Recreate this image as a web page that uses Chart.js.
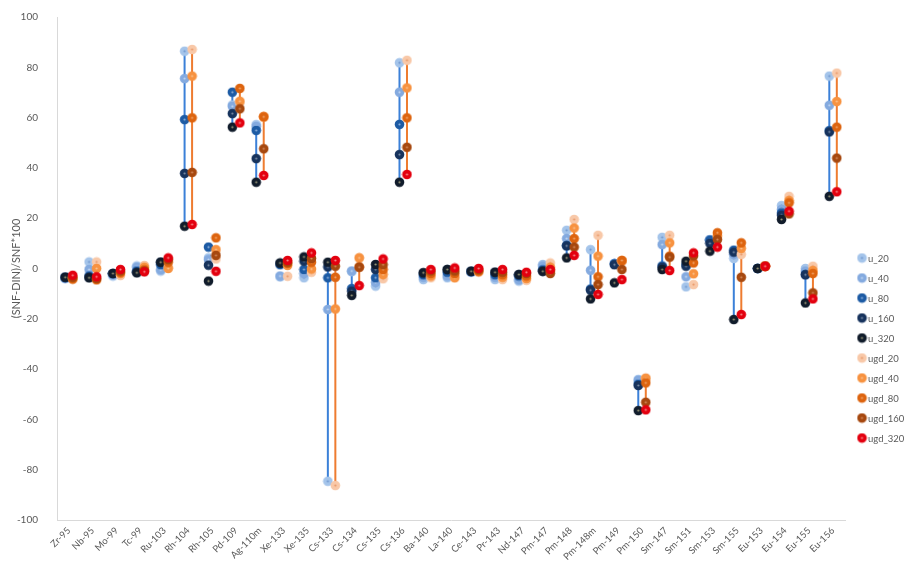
<!DOCTYPE html>
<html>
<head>
<meta charset="utf-8">
<script src="https://cdn.jsdelivr.net/npm/chart.js@4.4.1/dist/chart.umd.min.js"></script>
<style>
  html, body { margin: 0; padding: 0; background: #ffffff; }
  canvas { display: block; }
</style>
</head>
<body>
<canvas id="chart" width="906" height="561"></canvas>
<script>
// Nuclides on the x axis
const categories = ['Zr-95','Nb-95','Mo-99','Tc-99','Ru-103','Rh-104','Rh-105','Pd-109','Ag-110m','Xe-133','Xe-135',
  'Cs-133','Cs-134','Cs-135','Cs-136','Ba-140','La-140','Ce-143','Pr-143','Nd-147','Pm-147','Pm-148','Pm-148m',
  'Pm-149','Pm-150','Sm-147','Sm-151','Sm-153','Sm-155','Eu-153','Eu-154','Eu-155','Eu-156'];

// (SNF-DIN)/SNF*100 per nuclide, u_* cases
const u_20  = [-4, 2.6, -3, 1, -1, 86.4, 4.2, 65, 57.2, -3.3, -3.7, -84.6, -1.2, -7, 81.8, -4.4, -3.7, -1.5, -4.4, -5, 1.6, 15.2, 7.5, 2, -44.1, 12.4, -7.3, 11.5, 4, 0, 25, 0, 76.5];
const u_40  = [-4, -0.4, -2.5, 0.5, -0.5, 75.5, 3.5, 64.5, 56.5, -3, -2, -16.3, -1, -5.5, 70.1, -3.5, -3, -1.3, -3.5, -4.5, 1, 11.9, -0.7, 2, -44.5, 9.5, -3.3, 11.3, 5.6, 0, 23.5, -1, 64.9];
const u_80  = [-3.5, -3, -2, -1, 1.5, 59.2, 8.5, 70.1, 54.9, 1.5, -0.4, -3.7, -8, -3.7, 57.3, -2.5, -1.5, -1.2, -2.5, -3, -0.5, 9.1, -8.2, 1.8, -46, 1, 1.5, 11.3, 7.3, 0, 22.1, -2.4, 54.8];
const u_160 = [-3.5, -3.5, -2, -1.5, 2.5, 37.8, 1.3, 61.6, 43.7, 2, 2.9, 0.6, -9, -0.4, 45.3, -1.8, -0.5, -1.1, -1.5, -2.5, -1, 9, -8.6, 1.5, -46.5, 0.5, 0.9, 10, 6.5, 0, 21.2, -2.5, 54.3];
const u_320 = [-3.5, -3.7, -2, -1.7, 2.5, 16.8, -5, 56.2, 34.3, 2.2, 4.6, 2.5, -10.7, 1.6, 34.3, -1.7, -0.4, -1.1, -1.5, -2.4, -1.1, 4.2, -12.1, -5.7, -56.5, -0.4, 2.9, 6.9, -20.3, 0, 19.5, -13.7, 28.7];

// ugd_* cases
const ugd_20  = [-3.5, 2.6, -2.8, 1.2, 0.5, 87.1, 3.8, 66, 60.5, -3.1, -1.5, -86.3, 4.2, -4.1, 82.8, -3.7, -3.5, -1.5, -4.4, -4.7, 2.2, 19.5, 13.2, 3, -43.5, 13.2, -6.4, 12.5, 5.6, 0.9, 28.7, 0.9, 77.7];
const ugd_40  = [-4, 0, -2, 0.5, 0, 76.5, 7.5, 66.5, 60.3, 1.2, -0.2, -16.1, 4.2, -2.4, 71.8, -3, -3.7, -1.2, -3.5, -4, 0.5, 16.1, 4.9, 3, -43.7, 10.2, -2.1, 13, 8, 0.9, 27, -0.8, 66.4];
const ugd_80  = [-4.2, -4.5, -1.5, -0.5, 2.5, 59.9, 12.2, 71.6, 60.3, 2, 2.5, -3.5, 0.6, -0.4, 59.9, -2, -2, -1, -2.5, -3, -1, 11.9, -3.3, 3.2, -45.5, 4.9, 2.2, 14.2, 10.2, 0.9, 26.1, -2, 56.2];
const ugd_160 = [-3.5, -4, -1, -1, 3.5, 38.2, 5.2, 63.5, 47.6, 2.5, 4, 0.9, 0.5, 1.5, 48.2, -1, -1, -0.5, -1.5, -2, -2, 8.5, -6.4, -0.4, -53.2, 4.5, 5, 11.5, -3.5, 0.9, 21.7, -9.7, 43.9];
const ugd_320 = [-2.7, -3.3, -0.4, -1.3, 4.2, 17.5, -1.1, 57.9, 37, 3.2, 6.2, 3.2, -6.8, 3.8, 37.4, -0.4, 0.2, 0, -0.4, -1.5, -0.4, 5.2, -10.3, -4.4, -56.2, -0.8, 6.2, 8.5, -18.3, 0.9, 22.8, -12.1, 30.5];

// Nuclides whose spread is marked with a vertical range line
const rangeLineCategories = ['Rh-104','Pd-109','Ag-110m','Cs-133','Cs-134','Cs-136','Pm-148','Pm-148m','Pm-150','Sm-147','Sm-155','Eu-155','Eu-156'];

// Y axis tick values
const yTicks = [-100, -80, -60, -40, -20, 0, 20, 40, 60, 80, 100];

const uGroup = [
  { label: 'u_20',  values: u_20,  color: '#a4c4ea', dot: '#6f97cf' },
  { label: 'u_40',  values: u_40,  color: '#84aadf', dot: '#c4d8f2' },
  { label: 'u_80',  values: u_80,  color: '#1d5ba4', dot: '#8fb2de' },
  { label: 'u_160', values: u_160, color: '#17335d', dot: '#7d8fa8' },
  { label: 'u_320', values: u_320, color: '#111c2b', dot: '#9c9a78' }
];
const ugdGroup = [
  { label: 'ugd_20',  values: ugd_20,  color: '#f8c8a8', dot: '#e99a6a' },
  { label: 'ugd_40',  values: ugd_40,  color: '#f79240', dot: '#fbc28f' },
  { label: 'ugd_80',  values: ugd_80,  color: '#dd640f', dot: '#f2a56c' },
  { label: 'ugd_160', values: ugd_160, color: '#a6480f', dot: '#d58a5c' },
  { label: 'ugd_320', values: ugd_320, color: '#e3000f', dot: '#f58a8a' }
];

const SHIFT = 0.157; // horizontal offset of the two case groups inside a category

function markerImage(fill, dot) {
  const c = document.createElement('canvas');
  c.width = 11; c.height = 11;
  const g = c.getContext('2d');
  g.fillStyle = fill;
  g.beginPath(); g.arc(5.5, 5.5, 4.8, 0, Math.PI * 2); g.fill();
  g.fillStyle = dot;
  g.beginPath(); g.arc(5.5, 5.5, 1.1, 0, Math.PI * 2); g.fill();
  return c;
}

function rangeData(group, off) {
  const data = [];
  categories.forEach((cat, i) => {
    if (!rangeLineCategories.includes(cat)) return;
    const vals = group.map(s => s.values[i]);
    data.push({ x: i + off, y: Math.min(...vals) }, { x: i + off, y: Math.max(...vals) }, { x: i + off, y: null });
  });
  return data;
}

const datasets = [];
datasets.push({
  label: 'u range', data: rangeData(uGroup, -SHIFT), showLine: true, spanGaps: false,
  borderColor: '#3b80d8', borderWidth: 2, pointRadius: 0, order: 30
});
datasets.push({
  label: 'ugd range', data: rangeData(ugdGroup, SHIFT), showLine: true, spanGaps: false,
  borderColor: '#ee7c30', borderWidth: 2, pointRadius: 0, order: 29
});

const markerSeries = [];
[[uGroup, -SHIFT], [ugdGroup, SHIFT]].forEach(([group, off]) => {
  group.forEach(s => {
    const img = markerImage(s.color, s.dot);
    markerSeries.push({ label: s.label, img });
    datasets.push({
      label: s.label,
      data: s.values.map((v, i) => ({ x: i + off, y: v })),
      pointStyle: img,
      pointRadius: 5,
      backgroundColor: s.color,
      borderColor: s.color,
      showLine: false,
      order: 20 - markerSeries.length
    });
  });
});

// Right-hand legend
const sideLegend = {
  id: 'sideLegend',
  afterDraw(chart) {
    const ctx = chart.ctx;
    ctx.save();
    ctx.font = '9.5px Lato';
    ctx.fillStyle = '#595959';
    ctx.textAlign = 'left';
    ctx.textBaseline = 'middle';
    markerSeries.forEach((s, k) => {
      const y = 258 + k * 20;
      ctx.drawImage(s.img, 862 - 5.5, y - 5.5);
      ctx.fillText(s.label, 868, y + 0.5);
    });
    ctx.restore();
  }
};

new Chart(document.getElementById('chart'), {
  type: 'scatter',
  data: { datasets },
  plugins: [sideLegend],
  options: {
    responsive: false,
    animation: false,
    devicePixelRatio: 1,
    layout: { padding: { top: 16, right: 61, bottom: 0, left: 0 } },
    plugins: { legend: { display: false }, tooltip: { enabled: false } },
    scales: {
      x: {
        type: 'linear',
        min: -0.5,
        max: categories.length - 0.5,
        afterBuildTicks: sc => { sc.ticks = categories.map((_, i) => ({ value: i })); },
        afterFit: sc => { sc.height = 41; },
        ticks: {
          autoSkip: false, maxRotation: 45, minRotation: 45, padding: -3,
          color: '#595959', font: { family: 'Lato', size: 9.5 },
          callback: v => categories[v]
        },
        grid: { display: false },
        border: { display: true, color: '#d9d9d9', width: 1 }
      },
      y: {
        min: -100, max: 100,
        afterBuildTicks: sc => { sc.ticks = yTicks.map(v => ({ value: v })); },
        afterFit: sc => { sc.width = 57; },
        ticks: { padding: 11, color: '#595959', font: { family: 'Lato', size: 10 } },
        title: {
          display: true, text: '(SNF-DIN)/SNF*100', color: '#595959',
          font: { family: 'Lato', size: 11 }, padding: { top: 10, bottom: 0 }
        },
        grid: { display: false },
        border: { display: true, color: '#d9d9d9', width: 1 }
      }
    }
  }
});
</script>
</body>
</html>
